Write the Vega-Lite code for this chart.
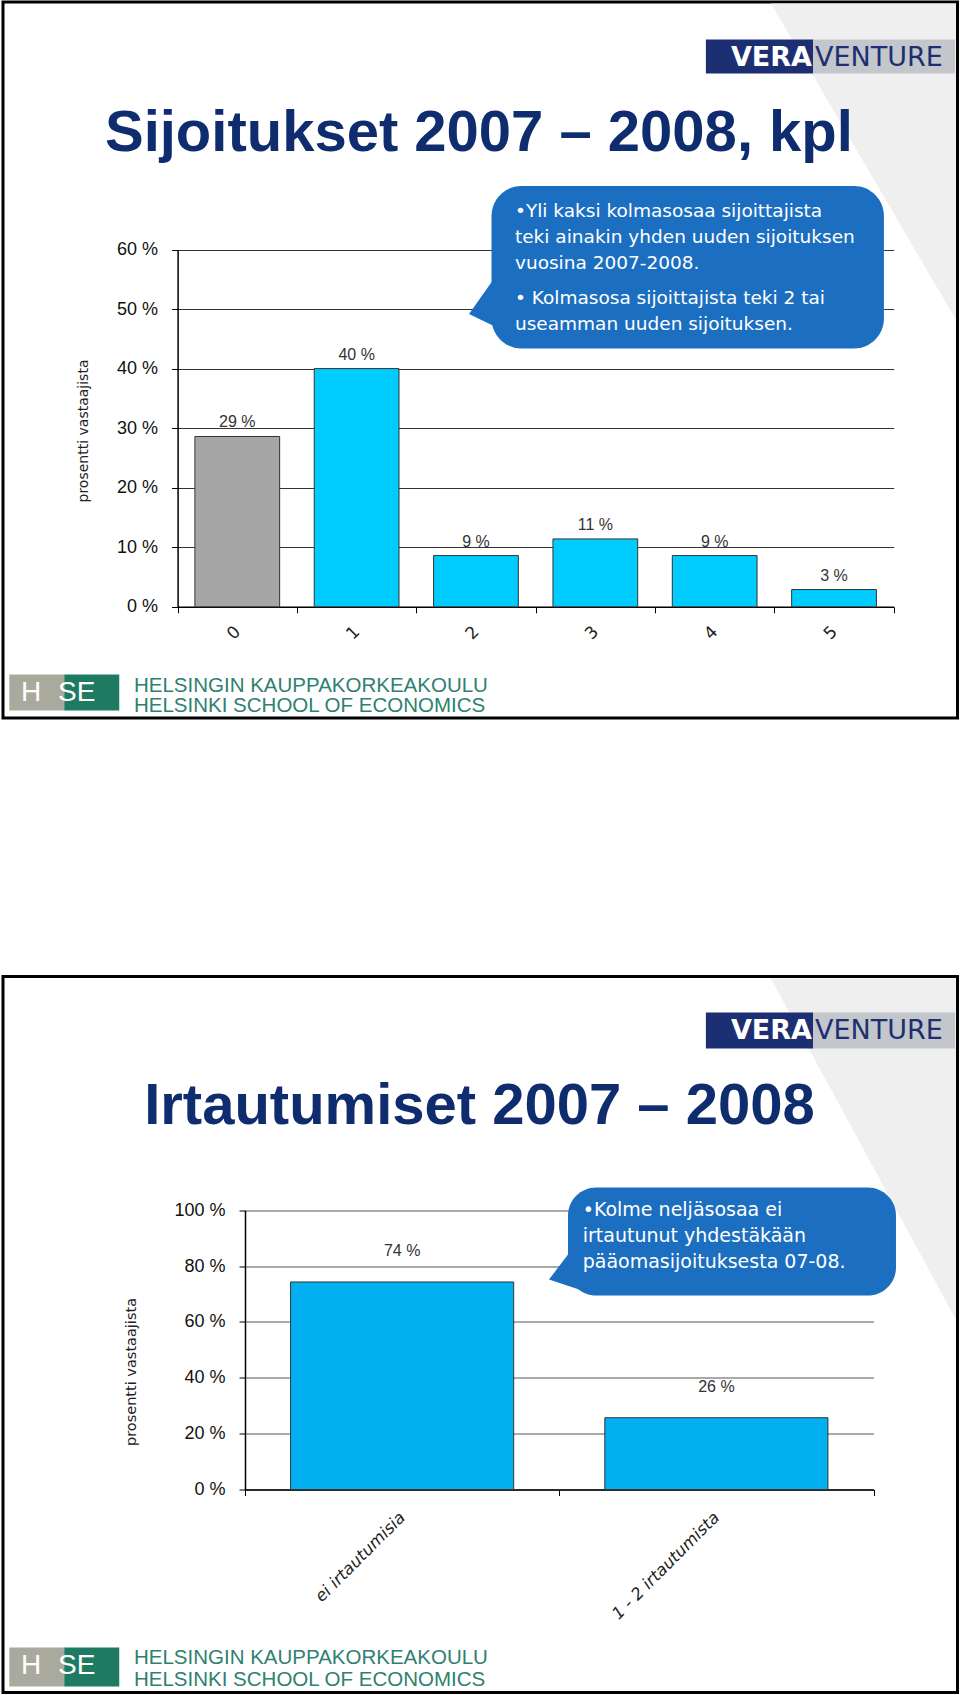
{
  "$schema": "https://vega.github.io/schema/vega-lite/v6.json",
  "padding": {"left": -5, "top": 0, "right": 0, "bottom": 0},
  "background": "#ffffff",
  "config": {"view": {"stroke": "#000000", "strokeWidth": 3}, "axis": {"labelOverlap": false}},
  "datasets": {
    "s1": [
      {"k": "0", "p": 28.6, "lbl": "29 %"},
      {"k": "1", "p": 40.0, "lbl": "40 %"},
      {"k": "2", "p": 8.6, "lbl": "9 %"},
      {"k": "3", "p": 11.4, "lbl": "11 %"},
      {"k": "4", "p": 8.6, "lbl": "9 %"},
      {"k": "5", "p": 2.9, "lbl": "3 %"}
    ],
    "s2": [
      {"k": "ei irtautumisia", "p": 74.3, "lbl": "74 %"},
      {"k": "1 - 2 irtautumista", "p": 25.7, "lbl": "26 %"}
    ]
  },
  "spacing": 254.5,
  "vconcat": [
    {
      "width": 954.5,
      "height": 716,
      "resolve": {"scale": {"x": "independent", "y": "independent"}},
      "layer": [
        {
          "data": {"name": "s1"},
          "layer": [
            {
              "mark": {"type": "bar", "stroke": "#333333", "strokeWidth": 1, "width": {"band": 0.71}},
              "encoding": {
                "x": {"field": "k", "type": "nominal", "sort": null,
                  "scale": {"type": "band", "range": [174.6, 890.7], "paddingInner": 0, "paddingOuter": 0},
                  "axis": {"title": null, "offset": -111.2, "labelAngle": -45, "labelAlign": "right", "labelBaseline": "middle", "labelFont": "DejaVu Sans", "labelFontSize": 17, "labelColor": "#222222", "labelPadding": 16, "tickBand": "extent", "tickSize": 6, "tickColor": "#000000", "domainColor": "#000000", "domainWidth": 1.5, "grid": false}},
                "y": {"field": "p", "type": "quantitative",
                  "scale": {"domain": [0, 60], "range": [604.8, 247.5], "nice": false, "zero": true},
                  "axis": {"title": "prosentti vastaajista", "offset": -174.6, "values": [0, 10, 20, 30, 40, 50, 60], "labelExpr": "datum.value + ' %'", "labelFont": "Liberation Sans", "labelFontSize": 18, "labelColor": "#111111", "labelPadding": 14, "tickSize": 6, "tickColor": "#000000", "domainColor": "#000000", "domainWidth": 1.5, "grid": true, "gridColor": "#333333", "gridWidth": 1, "titleFont": "DejaVu Sans", "titleFontSize": 14, "titleFontWeight": "normal", "titleColor": "#222222", "titleX": -94, "titleY": 428.5, "titleBaseline": "middle", "titleAngle": -90}},
                "color": {"condition": {"test": "datum.k === '0'", "value": "#a6a6a6"}, "value": "#00ccff"}
              }
            },
            {
              "mark": {"type": "text", "dy": -9, "baseline": "alphabetic", "font": "Liberation Sans", "fontSize": 16, "color": "#333333"},
              "encoding": {
                "x": {"field": "k", "type": "nominal", "sort": null},
                "y": {"field": "p", "type": "quantitative"},
                "text": {"field": "lbl"}
              }
            }
          ]
        },
        {
          "data": {"values": [{}]},
          "layer": [
            {"mark": {"type": "point", "shape": "M-0.585,-1L0.585,-1L0.585,1Z", "filled": true, "color": "#efefef", "opacity": 1, "strokeWidth": 0, "size": 99856},
             "encoding": {"x": {"datum": 649.0, "type": "quantitative", "scale": {"domain": [0, 720], "range": [0, 954.5], "nice": false, "zero": false}, "axis": null},
                          "y": {"datum": 120.3, "type": "quantitative", "scale": {"domain": [0, 540], "range": [0, 716], "nice": false, "zero": false}, "axis": null}}},
            {"mark": {"type": "rect", "color": "#1c2f73"},
             "encoding": {"x": {"datum": 530.2, "type": "quantitative", "axis": null}, "x2": {"datum": 611.0},
                          "y": {"datum": 28.3, "type": "quantitative", "axis": null}, "y2": {"datum": 53.9}}},
            {"mark": {"type": "rect", "color": "#c3c6ca"},
             "encoding": {"x": {"datum": 611.0, "type": "quantitative", "axis": null}, "x2": {"datum": 718.1},
                          "y": {"datum": 28.3, "type": "quantitative", "axis": null}, "y2": {"datum": 53.9}}},
            {"mark": {"type": "text", "align": "right", "baseline": "alphabetic", "font": "DejaVu Sans", "fontWeight": "bold", "fontSize": 27, "color": "#ffffff"},
             "encoding": {"x": {"datum": 610.2, "type": "quantitative", "axis": null}, "y": {"datum": 48.3, "type": "quantitative", "axis": null}, "text": {"value": "VERA"}}},
            {"mark": {"type": "text", "align": "left", "baseline": "alphabetic", "font": "DejaVu Sans", "fontSize": 27, "color": "#1c2f73"},
             "encoding": {"x": {"datum": 612.5, "type": "quantitative", "axis": null}, "y": {"datum": 48.3, "type": "quantitative", "axis": null}, "text": {"value": "VENTURE"}}},
            {"mark": {"type": "text", "align": "center", "baseline": "alphabetic", "font": "Liberation Sans", "fontWeight": "bold", "fontSize": 58, "color": "#0f2d6e"},
             "encoding": {"x": {"datum": 359.0, "type": "quantitative", "axis": null}, "y": {"datum": 112.5, "type": "quantitative", "axis": null}, "text": {"value": "Sijoitukset 2007 – 2008, kpl"}}},
            {"mark": {"type": "rect", "color": "#1c6fc0", "cornerRadius": 30},
             "encoding": {"x": {"datum": 368.5, "type": "quantitative", "axis": null}, "x2": {"datum": 664.5},
                          "y": {"datum": 138.8, "type": "quantitative", "axis": null}, "y2": {"datum": 261.3}}},
            {"mark": {"type": "point", "shape": "M0.29,-1L-0.667,0.354L0.667,1Z", "filled": true, "color": "#1c6fc0", "opacity": 1, "strokeWidth": 0, "size": 2304},
             "encoding": {"x": {"datum": 363.6, "type": "quantitative", "axis": null}, "y": {"datum": 228.9, "type": "quantitative", "axis": null}}},
            {"mark": {"type": "text", "align": "left", "baseline": "alphabetic", "font": "DejaVu Sans", "fontSize": 18.5, "lineHeight": 26, "color": "#ffffff"},
             "encoding": {"x": {"datum": 386.2, "type": "quantitative", "axis": null}, "y": {"datum": 161.8, "type": "quantitative", "axis": null},
                          "text": {"value": ["•Yli kaksi kolmasosaa sijoittajista", "teki ainakin yhden uuden sijoituksen", "vuosina 2007-2008."]}}},
            {"mark": {"type": "text", "align": "left", "baseline": "alphabetic", "font": "DejaVu Sans", "fontSize": 18.5, "lineHeight": 26, "color": "#ffffff"},
             "encoding": {"x": {"datum": 386.2, "type": "quantitative", "axis": null}, "y": {"datum": 227.8, "type": "quantitative", "axis": null},
                          "text": {"value": ["• Kolmasosa sijoittajista teki 2 tai", "useamman uuden sijoituksen."]}}},
            {"mark": {"type": "rect", "color": "#a9a99d"},
             "encoding": {"x": {"datum": 4.75, "type": "quantitative", "axis": null}, "x2": {"datum": 46.2},
                          "y": {"datum": 507.2, "type": "quantitative", "axis": null}, "y2": {"datum": 534.4}}},
            {"mark": {"type": "rect", "color": "#1f7a62"},
             "encoding": {"x": {"datum": 46.2, "type": "quantitative", "axis": null}, "x2": {"datum": 87.7},
                          "y": {"datum": 507.2, "type": "quantitative", "axis": null}, "y2": {"datum": 534.4}}},
            {"mark": {"type": "text", "align": "left", "baseline": "alphabetic", "font": "Liberation Sans", "fontSize": 28, "color": "#ffffff"},
             "encoding": {"x": {"datum": 13.6, "type": "quantitative", "axis": null}, "y": {"datum": 527.4, "type": "quantitative", "axis": null}, "text": {"value": "H"}}},
            {"mark": {"type": "text", "align": "left", "baseline": "alphabetic", "font": "Liberation Sans", "fontSize": 28, "color": "#ffffff"},
             "encoding": {"x": {"datum": 41.5, "type": "quantitative", "axis": null}, "y": {"datum": 527.4, "type": "quantitative", "axis": null}, "text": {"value": "SE"}}},
            {"mark": {"type": "text", "align": "left", "baseline": "alphabetic", "font": "Liberation Sans", "fontSize": 20.5, "lineHeight": 20, "color": "#2f8070"},
             "encoding": {"x": {"datum": 98.8, "type": "quantitative", "axis": null}, "y": {"datum": 520.1, "type": "quantitative", "axis": null},
                          "text": {"value": ["HELSINGIN KAUPPAKORKEAKOULU", "HELSINKI SCHOOL OF ECONOMICS"]}}}
          ]
        }
      ]
    },
    {
      "width": 954.5,
      "height": 716,
      "resolve": {"scale": {"x": "independent", "y": "independent"}},
      "layer": [
        {
          "data": {"name": "s2"},
          "layer": [
            {
              "mark": {"type": "bar", "stroke": "#333333", "strokeWidth": 1, "color": "#00b0f0", "width": {"band": 0.71}},
              "encoding": {
                "x": {"field": "k", "type": "nominal", "sort": null,
                  "scale": {"type": "band", "range": [242, 870.5], "paddingInner": 0, "paddingOuter": 0},
                  "axis": {"title": null, "offset": -203, "labelAngle": -45, "labelAlign": "right", "labelBaseline": "middle", "labelFont": "DejaVu Sans", "labelFontStyle": "italic", "labelFontSize": 16.5, "labelColor": "#222222", "labelPadding": 19, "labelLimit": 400, "tickBand": "extent", "tickSize": 6, "tickColor": "#000000", "domainColor": "#000000", "domainWidth": 1.5, "grid": false}},
                "y": {"field": "p", "type": "quantitative",
                  "scale": {"domain": [0, 100], "range": [513, 233.7], "nice": false, "zero": true},
                  "axis": {"title": "prosentti vastaajista", "offset": -242, "values": [0, 20, 40, 60, 80, 100], "labelExpr": "datum.value + ' %'", "labelFont": "Liberation Sans", "labelFontSize": 18, "labelColor": "#111111", "labelPadding": 14, "tickSize": 6, "tickColor": "#000000", "domainColor": "#000000", "domainWidth": 1.5, "grid": true, "gridColor": "#555555", "gridWidth": 1, "titleFont": "DejaVu Sans", "titleFontSize": 14.5, "titleFontWeight": "normal", "titleColor": "#222222", "titleX": -114, "titleY": 395, "titleBaseline": "middle", "titleAngle": -90}}
              }
            },
            {
              "mark": {"type": "text", "dy": -26, "baseline": "alphabetic", "font": "Liberation Sans", "fontSize": 16, "color": "#333333"},
              "encoding": {
                "x": {"field": "k", "type": "nominal", "sort": null},
                "y": {"field": "p", "type": "quantitative"},
                "text": {"field": "lbl"}
              }
            }
          ]
        },
        {
          "data": {"values": [{}]},
          "layer": [
            {"mark": {"type": "point", "shape": "M-0.5425,-1L0.5425,-1L0.5425,1Z", "filled": true, "color": "#efefef", "opacity": 1, "strokeWidth": 0, "size": 116281},
             "encoding": {"x": {"datum": 649.0, "type": "quantitative", "scale": {"domain": [0, 720], "range": [0, 954.5], "nice": false, "zero": false}, "axis": null},
                          "y": {"datum": 130.1, "type": "quantitative", "scale": {"domain": [0, 540], "range": [0, 716], "nice": false, "zero": false}, "axis": null}}},
            {"mark": {"type": "rect", "color": "#1c2f73"},
             "encoding": {"x": {"datum": 530.2, "type": "quantitative", "axis": null}, "x2": {"datum": 611.0},
                          "y": {"datum": 27.2, "type": "quantitative", "axis": null}, "y2": {"datum": 54.3}}},
            {"mark": {"type": "rect", "color": "#c3c6ca"},
             "encoding": {"x": {"datum": 611.0, "type": "quantitative", "axis": null}, "x2": {"datum": 718.1},
                          "y": {"datum": 27.2, "type": "quantitative", "axis": null}, "y2": {"datum": 54.3}}},
            {"mark": {"type": "text", "align": "right", "baseline": "alphabetic", "font": "DejaVu Sans", "fontWeight": "bold", "fontSize": 27, "color": "#ffffff"},
             "encoding": {"x": {"datum": 610.2, "type": "quantitative", "axis": null}, "y": {"datum": 47.5, "type": "quantitative", "axis": null}, "text": {"value": "VERA"}}},
            {"mark": {"type": "text", "align": "left", "baseline": "alphabetic", "font": "DejaVu Sans", "fontSize": 27, "color": "#1c2f73"},
             "encoding": {"x": {"datum": 612.5, "type": "quantitative", "axis": null}, "y": {"datum": 47.5, "type": "quantitative", "axis": null}, "text": {"value": "VENTURE"}}},
            {"mark": {"type": "text", "align": "center", "baseline": "alphabetic", "font": "Liberation Sans", "fontWeight": "bold", "fontSize": 58, "color": "#0f2d6e"},
             "encoding": {"x": {"datum": 359.4, "type": "quantitative", "axis": null}, "y": {"datum": 111.6, "type": "quantitative", "axis": null}, "text": {"value": "Irtautumiset 2007 – 2008"}}},
            {"mark": {"type": "rect", "color": "#1c6fc0", "cornerRadius": 28},
             "encoding": {"x": {"datum": 426.2, "type": "quantitative", "axis": null}, "x2": {"datum": 673.6},
                          "y": {"datum": 159.1, "type": "quantitative", "axis": null}, "y2": {"datum": 240.6}}},
            {"mark": {"type": "point", "shape": "M-0.095,-0.929L-1,0.262L1,0.929Z", "filled": true, "color": "#1c6fc0", "opacity": 1, "strokeWidth": 0, "size": 1764},
             "encoding": {"x": {"datum": 427.7, "type": "quantitative", "axis": null}, "y": {"datum": 224.4, "type": "quantitative", "axis": null}}},
            {"mark": {"type": "text", "align": "left", "baseline": "alphabetic", "font": "DejaVu Sans", "fontSize": 19, "lineHeight": 26, "color": "#ffffff"},
             "encoding": {"x": {"datum": 437.3, "type": "quantitative", "axis": null}, "y": {"datum": 180.9, "type": "quantitative", "axis": null},
                          "text": {"value": ["•Kolme neljäsosaa ei", "irtautunut yhdestäkään", "pääomasijoituksesta 07-08."]}}},
            {"mark": {"type": "rect", "color": "#a9a99d"},
             "encoding": {"x": {"datum": 4.75, "type": "quantitative", "axis": null}, "x2": {"datum": 46.2},
                          "y": {"datum": 506.1, "type": "quantitative", "axis": null}, "y2": {"datum": 535.5}}},
            {"mark": {"type": "rect", "color": "#1f7a62"},
             "encoding": {"x": {"datum": 46.2, "type": "quantitative", "axis": null}, "x2": {"datum": 87.7},
                          "y": {"datum": 506.1, "type": "quantitative", "axis": null}, "y2": {"datum": 535.5}}},
            {"mark": {"type": "text", "align": "left", "baseline": "alphabetic", "font": "Liberation Sans", "fontSize": 28, "color": "#ffffff"},
             "encoding": {"x": {"datum": 13.6, "type": "quantitative", "axis": null}, "y": {"datum": 526.3, "type": "quantitative", "axis": null}, "text": {"value": "H"}}},
            {"mark": {"type": "text", "align": "left", "baseline": "alphabetic", "font": "Liberation Sans", "fontSize": 28, "color": "#ffffff"},
             "encoding": {"x": {"datum": 41.5, "type": "quantitative", "axis": null}, "y": {"datum": 526.3, "type": "quantitative", "axis": null}, "text": {"value": "SE"}}},
            {"mark": {"type": "text", "align": "left", "baseline": "alphabetic", "font": "Liberation Sans", "fontSize": 20.5, "lineHeight": 22, "color": "#2f8070"},
             "encoding": {"x": {"datum": 98.8, "type": "quantitative", "axis": null}, "y": {"datum": 518.2, "type": "quantitative", "axis": null},
                          "text": {"value": ["HELSINGIN KAUPPAKORKEAKOULU", "HELSINKI SCHOOL OF ECONOMICS"]}}}
          ]
        }
      ]
    }
  ]
}
